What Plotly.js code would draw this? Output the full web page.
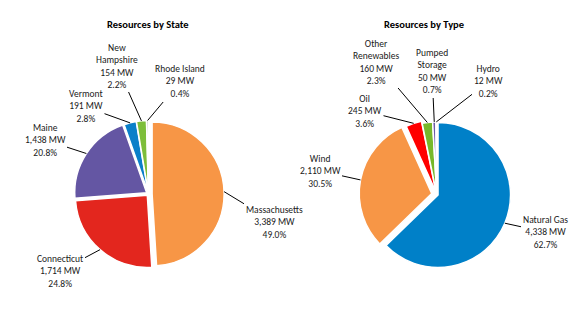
<!DOCTYPE html>
<html><head><meta charset="utf-8">
<script src="https://cdn.plot.ly/plotly-3.0.1.min.js"></script>
<style>html,body{margin:0;padding:0;background:#fff}#chart{width:579px;height:317px}</style>
</head><body><div id="chart"></div>
<script>
// ---- data ----
const stateLabels = ['Massachusetts','Connecticut','Maine','Vermont','New Hampshire','Rhode Island'];
const stateNames  = ['Massachusetts','Connecticut','Maine','Vermont','New<br>Hampshire','Rhode Island'];
const stateMW     = [3389,1714,1438,191,154,29];
const statePct    = ['49.0%','24.8%','20.8%','2.8%','2.2%','0.4%'];
const typeLabels  = ['Natural Gas','Wind','Oil','Other Renewables','Pumped Storage','Hydro'];
const typeNames   = ['Natural Gas','Wind','Oil','Other<br>Renewables','Pumped<br>Storage','Hydro'];
const typeMW      = [4338,2110,245,160,50,12];
const typePct     = ['62.7%','30.5%','3.6%','2.3%','0.7%','0.2%'];

// ---- styles / layout ----
const W = 579, H = 317;
const FONT = 'Carlito, Lato, "Open Sans", sans-serif';
const stateColors = ['#F79646','#E3261E','#6456A3','#0A7FC9','#7DBE3A','#A6A6A6'];
const typeColors  = ['#0080C8','#F79646','#FF0000','#77B82A','#6A5AA8','#F0B400'];
const statePull = [0.05,0.025,0.03,0.02,0.02,0.02];
const typePull  = [0.02,0.07,0.03,0.0,0.0,0.0];
const pies = [
  {cx:148.5, cy:194, R:72,  labels:stateLabels, names:stateNames, vals:stateMW, pct:statePct, colors:stateColors, pull:statePull,
   textPos:[[274,222],[60,271],[45,140],[86,107],[117,66],[180,82]], title:'Resources by State', tx:148},
  {cx:436.7, cy:194.4, R:72.5, labels:typeLabels, names:typeNames, vals:typeMW, pct:typePct, colors:typeColors, pull:typePull,
   textPos:[[545,232],[320,171],[365,111],[376,62],[432,72],[488,82]], title:'Resources by Type', tx:424}
];

const traces = [], annotations = [];
pies.forEach(p => {
  const maxPull = Math.max(...p.pull);
  const half = p.R * (1 + maxPull);
  traces.push({
    type:'pie', labels:p.labels, values:p.vals, sort:false, direction:'clockwise', rotation:0,
    marker:{colors:p.colors, line:{color:'#ffffff', width:1.5}}, pull:p.pull,
    textinfo:'none', hoverinfo:'label+value+percent', showlegend:false,
    domain:{x:[(p.cx-half)/W,(p.cx+half)/W], y:[(H-p.cy-half)/H,(H-p.cy+half)/H]}
  });
  const total = p.vals.reduce((a,b)=>a+b,0);
  let cum = 0;
  p.vals.forEach((v,i) => {
    const th = (cum + v/2)/total*2*Math.PI;
    cum += v;
    const r = p.R*(1+p.pull[i]);
    const hx = p.cx + r*Math.sin(th), hy = p.cy - r*Math.cos(th);
    const [tx,ty] = p.textPos[i];
    annotations.push({
      xref:'paper', yref:'paper', x:hx/W, y:1-hy/H, ax:tx-hx, ay:ty-hy,
      showarrow:true, arrowhead:0, arrowwidth:1, arrowcolor:'#000', standoff:0,
      text: p.names[i] + '<br>' + v.toLocaleString('en-US') + ' MW<br>' + p.pct[i],
      font:{family:FONT, size:9.5, color:'#1a1a1a'}, align:'center'
    });
  });
  annotations.push({xref:'paper', yref:'paper', x:p.tx/W, y:1-25/H, showarrow:false,
    text:'<b>'+p.title+'</b>', font:{family:FONT, size:10.5, color:'#000'}, xanchor:'center', yanchor:'middle'});
});

Plotly.newPlot('chart', traces, {
  width:W, height:H, margin:{l:0,r:0,t:0,b:0},
  paper_bgcolor:'#fff', plot_bgcolor:'#fff', annotations:annotations
}, {displayModeBar:false, staticPlot:true});
</script></body></html>
